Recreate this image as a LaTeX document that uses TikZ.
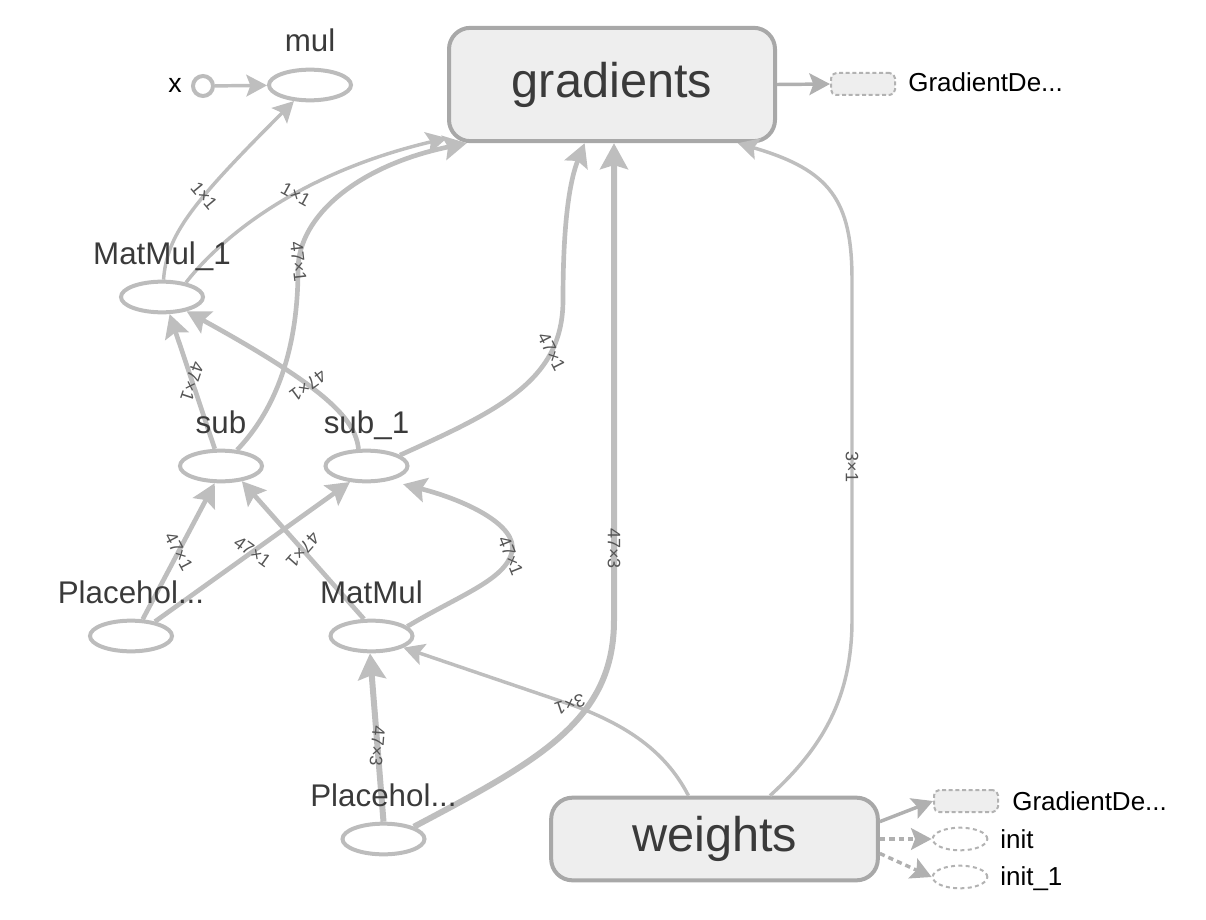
\documentclass[tikz,border=0pt]{standalone}
\usepackage{fontspec}
\setmainfont{Liberation Sans}
\usetikzlibrary{arrows.meta,shapes.geometric}

\definecolor{eline}{RGB}{190,190,190}
\definecolor{opline}{RGB}{188,188,188}
\definecolor{grpline}{RGB}{168,168,168}
\definecolor{grpfill}{RGB}{238,238,238}
\definecolor{auxline}{RGB}{178,178,178}
\definecolor{ctlline}{RGB}{176,176,176}
\definecolor{txt}{RGB}{58,58,58}
\definecolor{lbl}{RGB}{85,85,85}

\begin{document}
\begin{tikzpicture}[x=0.75pt,y=0.75pt,yscale=-1,xscale=1,
  op/.style={ellipse, draw=opline, line width=3pt, minimum width=61.5pt, minimum height=23pt, inner sep=0pt},
  grp/.style={rectangle, rounded corners=16pt, draw=grpline, fill=grpfill, line width=3pt, text=txt, font=\fontsize{36.5}{40}\selectfont},
  aux/.style={rectangle, rounded corners=4pt, draw=auxline, fill=grpfill, line width=1.5pt, dash pattern=on 3pt off 2pt, minimum width=48pt, minimum height=16.5pt, inner sep=0pt},
  auxop/.style={ellipse, draw=auxline, line width=1.5pt, dash pattern=on 3pt off 2.5pt, minimum width=41pt, minimum height=17pt, inner sep=0pt},
  oplabel/.style={text=txt, font=\fontsize{23.5}{26}\selectfont, anchor=base, inner sep=0pt},
  auxlabel/.style={text=black, font=\fontsize{19.5}{22}\selectfont, anchor=base west, inner sep=0pt},
  elabel/.style={sloped, allow upside down, text=lbl, font=\fontsize{13.5}{15}\selectfont, inner sep=1pt},
  flow/.style={draw=eline, line width=2.6pt, -{Stealth[length=10pt 2.1, width=10pt 2.4, inset=3pt]}},
  flowmid/.style={flow, line width=3.5pt},
  flowthick/.style={flow, line width=4.5pt},
  ctrl/.style={draw=ctlline, line width=2.6pt, dash pattern=on 4pt off 3pt, -{Stealth[length=10pt 2.1, width=10pt 2.4, inset=3pt]}}
]
\useasboundingbox (0,0) rectangle (1206,920);

% Group boxes
\node [grp, minimum width=244.5pt, minimum height=85pt] (gradients) at (612,84.5) {gradients};
\node [grp, minimum width=245pt, minimum height=62pt] (weights) at (714.5,839) {weights};

% Op nodes
\node [circle, draw=opline, line width=3pt, minimum size=15pt, inner sep=0pt] (xin) at (203,86) {};
\node [op] (mul) at (310,85) {};
\node [op] (matmul1) at (162,297) {};
\node [op] (sub) at (221,466) {};
\node [op] (sub1) at (366.5,466) {};
\node [op] (ph1) at (131,636) {};
\node [op] (matmul) at (371.5,636) {};
\node [op] (ph2) at (383.5,839) {};

% Auxiliary nodes
\node [aux] (gd1) at (863,84) {};
\node [aux] (gd2) at (966,801) {};
\node [auxop] (init) at (960,839) {};
\node [auxop] (init1) at (960,877) {};

% Edges into mul
\draw [flow] (xin) -- (mul);
\draw [flow] (matmul1.85) .. controls (167,235) and (190,205) .. node [elabel, pos=.6] {1×1} (mul.225);

% Edges into gradients
\draw [flow] (matmul1.31) .. controls (215,245) and (290,175) .. node [elabel, pos=.6] {1×1} (gradients.198);
\draw [flowmid] (sub.45) .. controls (285,400) and (298,330) .. (298,270) .. controls (298,215) and (360,165) .. node [elabel, pos=.05] {47×1} (gradients.202);
\draw [flowmid] (sub1.18) .. controls (500,410) and (563,380) .. node [elabel, pos=.75] {47×1} (563,300) .. controls (563,220) and (570,180) .. (gradients.245);
\draw [flowthick] (ph2.22) .. controls (540,760) and (614,720) .. (614,620) -- node [elabel, pos=.15] {47×3} ([xshift=1.5pt]gradients.south);
\draw [flow] (weights.38) .. controls (820,750) and (852,700) .. (852,620) -- node [elabel, pos=.45] {3×1} (852,280) .. controls (852,200) and (830,170) .. (gradients.335);

% Edges into MatMul_1
\draw [flowmid] (sub.110) -- node [elabel] {47×1} (matmul1.294);
\draw [flowmid] (sub1.115) .. controls (355,420) and (330,390) .. node [elabel, pos=.6] {47×1} (matmul1.330);

% Edges into sub and sub_1
\draw [flowmid] (ph1.55) -- node [elabel] {47×1} (sub.250);
\draw [flowmid] (ph1.31) -- node [elabel] {47×1} (sub1.224);
\draw [flowmid] (matmul.114) -- node [elabel] {47×1} (sub.324);
\draw [flowmid] (matmul.15) .. controls (460,595) and (505,580) .. node [elabel, pos=.95] {47×1} (512,552) .. controls (518,525) and (465,500) .. ([shift={(12,4)}]sub1.330);

% Edges into MatMul
\draw [flowthick] (ph2.90) -- node [elabel, pos=.45] {47×3} (matmul.265);
\draw [flow] (weights.121) .. controls (665,750) and (625,725) .. (575,706) -- node [elabel, pos=.03] {3×1} (matmul.340);

% Outgoing side edges
\draw [flow, draw=ctlline] (gradients.east) -- (gd1.west);
\draw [flow, draw=ctlline] (weights.6) -- (gd2.west);
\draw [ctrl] (weights.east) -- (init.west);
\draw [ctrl] (weights.-5) -- (init1.west);

% Text Node
\node [oplabel, text=black, font=\fontsize{20}{22}\selectfont] (xin-t) at (175,93) {x};
\node [oplabel] (mul-t) at (310,52) {mul};
\node [oplabel] (matmul1-t) at (162,264) {MatMul\_1};
\node [oplabel] (sub-t) at (221,433) {sub};
\node [oplabel] (sub1-t) at (366.5,433) {sub\_1};
\node [oplabel] (ph1-t) at (131,603) {Placehol...};
\node [oplabel] (matmul-t) at (371.5,603) {MatMul};
\node [oplabel] (ph2-t) at (383.5,806) {Placehol...};
\node [auxlabel] (gd1-t) at (908,92) {GradientDe...};
\node [auxlabel] (gd2-t) at (1012,810) {GradientDe...};
\node [auxlabel] (init-t) at (1000,848) {init};
\node [auxlabel] (init1-t) at (1000,885) {init\_1};

\end{tikzpicture}
\end{document}
